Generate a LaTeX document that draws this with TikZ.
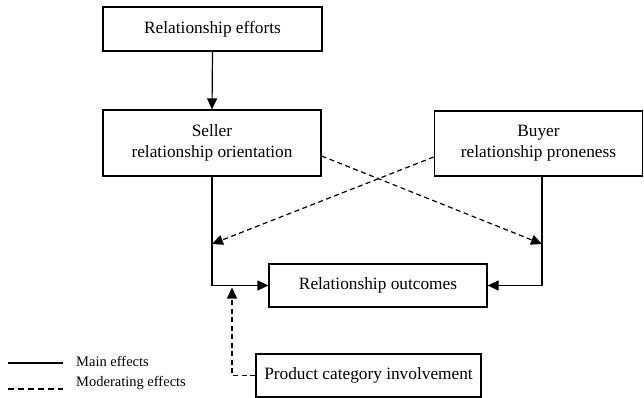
\documentclass[tikz,border=0pt]{standalone}
\usepackage{fontspec}
\setmainfont{Liberation Serif}
\usetikzlibrary{arrows.meta}
\begin{document}
\begin{tikzpicture}[x=1pt, y=-1pt,
  box/.style={draw, line width=1.2pt, inner sep=0pt, align=center,
    font=\fontsize{17.3}{21}\selectfont},
  link/.style={line width=1.2pt, -{Triangle[length=11pt,width=10pt]}},
  modlink/.style={link, dash pattern=on 5pt off 3.5pt},
  legtext/.style={anchor=west, inner sep=0pt, font=\fontsize{14.5}{17}\selectfont}]
\useasboundingbox (0,0) rectangle (644,398);

% boxes
\node[box, minimum width=219pt, minimum height=44pt] (eff) at (212.5,29) {Relationship efforts};
\node[box, minimum width=218pt, minimum height=66pt] (sel) at (212,143) {Seller\\relationship orientation};
\node[box, minimum width=208.5pt, minimum height=65pt] (buy) at (538.5,143.5) {Buyer\\relationship proneness};
\node[box, minimum width=218pt, minimum height=43pt] (out) at (378,285.5) {Relationship outcomes};
\node[box, minimum width=225pt, minimum height=43pt] (prod) at (368.5,375.5) {Product category involvement};

% main effects
\draw[link] (eff.south) -- (sel.north);
\draw[link] (sel.south) |- (out.west);
\draw[link] (buy.south -| 542,0) |- (out.east);

% moderating effects
\coordinate (selx) at (212,244);
\coordinate (buyx) at (542,244);
\draw[modlink] (sel.east |- 0,156) -- (buyx);
\draw[modlink] (buy.west |- 0,157) -- (selx);
\coordinate (mid) at (232,287.5);
\draw[modlink] (prod.west) -| (mid);

% legend
\coordinate (l1a) at (8,363);
\coordinate (l1b) at (63,363);
\coordinate (l2a) at (8,389);
\coordinate (l2b) at (63,389);
\draw[line width=1.2pt] (l1a) -- (l1b);
\draw[line width=1.2pt, dash pattern=on 6pt off 4pt] (l2a) -- (l2b);
\node[legtext] (leg1) at (76,361) {Main effects};
\node[legtext] (leg2) at (76,383) {Moderating effects};
\end{tikzpicture}
\end{document}
